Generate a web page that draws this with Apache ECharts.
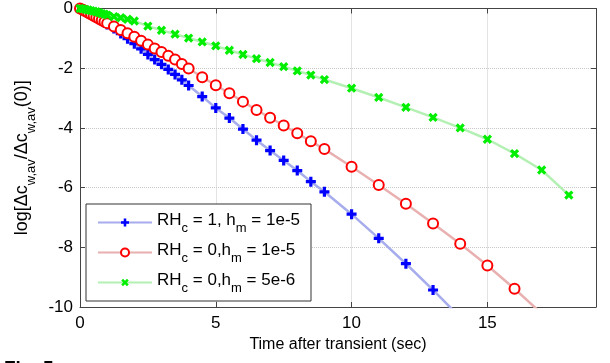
<!DOCTYPE html>
<html><head><meta charset="utf-8">
<script src="https://cdn.jsdelivr.net/npm/echarts@6/dist/echarts.min.js"></script>
<style>html,body{margin:0;padding:0;background:#fff}#c{width:610px;height:363px}</style>
</head><body><div id="c"></div>
<script>
// ---- data ----
var xTicks = [0, 5, 10, 15];
var yTicks = [0, -2, -4, -6, -8, -10];
var seriesNames = ['RH_c = 1, h_m = 1e-5', 'RH_c = 0,h_m = 1e-5', 'RH_c = 0,h_m = 5e-6'];

var tBlue = [0,0.1,0.2,0.3,0.4,0.5,0.6,0.7,0.8,0.9,1.0,
  1.25,1.5,1.75,2.0,2.25,2.5,2.75,3.0,3.25,3.5,3.75,4.0,
  4.5,5,5.5,6,6.5,7,7.5,8,8.5,9,
  10,11,12,13,14];
var yBlue = [0,-0.04,-0.09,-0.14,-0.19,-0.24,-0.30,-0.36,-0.42,-0.48,-0.54,
  -0.67,-0.84,-1.01,-1.18,-1.35,-1.54,-1.71,-1.87,-2.04,-2.21,-2.39,-2.58,
  -2.95,-3.33,-3.67,-4.04,-4.41,-4.76,-5.09,-5.43,-5.80,-6.14,
  -6.89,-7.70,-8.55,-9.43,-10.35];

var tRed = [0,0.1,0.2,0.3,0.4,0.5,0.6,0.7,0.8,0.9,1.0,
  1.25,1.5,1.75,2.0,2.25,2.5,2.75,3.0,3.25,3.5,3.75,4.0,
  4.5,5,5.5,6,6.5,7,7.5,8,8.5,9,
  10,11,12,13,14,15,16,17];
var yRed = [0,-0.04,-0.09,-0.14,-0.19,-0.24,-0.29,-0.34,-0.39,-0.44,-0.49,
  -0.60,-0.72,-0.83,-0.95,-1.08,-1.21,-1.34,-1.46,-1.58,-1.71,-1.86,-2.01,
  -2.30,-2.57,-2.84,-3.12,-3.40,-3.66,-3.92,-4.18,-4.45,-4.71,
  -5.30,-5.91,-6.54,-7.20,-7.88,-8.61,-9.39,-10.22];

var tGreen = [0,0.1,0.2,0.3,0.4,0.5,0.6,0.7,0.8,0.9,1.0,
  1.25,1.5,1.75,2.0,2.5,3,3.5,4,4.5,5,5.5,6,6.5,7,7.5,8,8.5,9,
  10,11,12,13,14,15,16,17,18];
var yGreen = [0,-0.01,-0.03,-0.05,-0.07,-0.09,-0.11,-0.14,-0.17,-0.19,-0.22,
  -0.27,-0.31,-0.36,-0.42,-0.59,-0.73,-0.86,-0.99,-1.12,-1.25,-1.40,-1.54,-1.68,-1.81,-1.95,-2.09,-2.23,-2.38,
  -2.67,-2.98,-3.31,-3.65,-4.00,-4.38,-4.86,-5.41,-6.25];

function pairs(t, y) { return t.map(function (v, i) { return [v, y[i]]; }); }

var FONT = 'Liberation Sans';
var PLUS = 'path://M3.4,0H6.6V3.4H10V6.6H6.6V10H3.4V6.6H0V3.4H3.4Z';

function makeRich(main, sub, drop) {
  return {
    m: { fontFamily: FONT, fontSize: main, color: '#000', lineHeight: main + 4, verticalAlign: 'top' },
    s: { fontFamily: FONT, fontSize: sub, color: '#000', lineHeight: sub, padding: [drop, 0, 0, 0], verticalAlign: 'top' }
  };
}
function subFmt(name) {
  return '{m|' + name.replace(/_(\w)/g, '}{s|$1}{m|') + '}';
}

var chart = echarts.init(document.getElementById('c'), null, { renderer: 'canvas' });
var axisLineStyle = { color: '#444', width: 1 };
chart.setOption({
  animation: false,
  backgroundColor: '#fff',
  grid: { left: 80, right: 14, top: 6, bottom: 56, containLabel: false },
  xAxis: [{
    type: 'value', min: 0, max: 19, interval: 5, position: 'bottom',
    axisLine: { show: true, onZero: false, lineStyle: axisLineStyle },
    axisTick: { show: true, inside: true, length: 5, lineStyle: axisLineStyle },
    axisLabel: { fontFamily: FONT, fontSize: 17, color: '#000', margin: 8,
      formatter: function (v) { return xTicks.indexOf(v) >= 0 ? String(v) : ''; } },
    splitLine: { show: true, lineStyle: { color: '#c8c8c8', type: 'dotted', width: 1 } },
    name: 'Time after transient (sec)', nameLocation: 'middle', nameGap: 28,
    nameTextStyle: { fontFamily: FONT, fontSize: 16, color: '#000' }
  }, {
    type: 'value', min: 0, max: 19, interval: 5, position: 'top',
    axisLine: { show: true, onZero: false, lineStyle: axisLineStyle },
    axisTick: { show: true, inside: true, length: 5, lineStyle: axisLineStyle },
    axisLabel: { show: false }, splitLine: { show: false }
  }],
  yAxis: [{
    type: 'value', min: -10, max: 0, interval: 2, position: 'left',
    axisLine: { show: true, onZero: false, lineStyle: axisLineStyle },
    axisTick: { show: true, inside: true, length: 5, lineStyle: axisLineStyle },
    axisLabel: { fontFamily: FONT, fontSize: 17, color: '#000', margin: 7,
      formatter: function (v) { return yTicks.indexOf(v) >= 0 ? String(v) : ''; } },
    splitLine: { show: true, lineStyle: { color: '#c8c8c8', type: 'dotted', width: 1 } },
    name: '{m|log[Δc}{s|w,av}{m|/Δc}{s|w,av}{m|(0)]}',
    nameLocation: 'middle', nameRotate: 90, nameGap: 37,
    nameTextStyle: { rich: makeRich(18, 13, 11) }
  }, {
    type: 'value', min: -10, max: 0, interval: 2, position: 'right',
    axisLine: { show: true, onZero: false, lineStyle: axisLineStyle },
    axisTick: { show: true, inside: true, length: 5, lineStyle: axisLineStyle },
    axisLabel: { show: false }, splitLine: { show: false }
  }],
  legend: {
    orient: 'vertical', left: 86, top: 204,
    padding: [8, 11, 6, 11], itemGap: 7, itemWidth: 54, itemHeight: 10,
    backgroundColor: '#fff', borderColor: '#333', borderWidth: 1, borderRadius: 0,
    data: seriesNames,
    formatter: subFmt,
    textStyle: { rich: makeRich(17, 13, 10) }
  },
  series: [{
    name: seriesNames[0], type: 'line', data: pairs(tBlue, yBlue),
    symbol: PLUS, symbolSize: 10, showAllSymbol: true,
    itemStyle: { color: '#0000ff' },
    lineStyle: { color: '#a6acec', width: 2.5 }
  }, {
    name: seriesNames[1], type: 'line', data: pairs(tRed, yRed),
    symbol: 'emptyCircle', symbolSize: 10, showAllSymbol: true,
    itemStyle: { color: '#ff0000', borderColor: '#ff0000', borderWidth: 2.6 },
    lineStyle: { color: '#e8b0b0', width: 2.5 }
  }, {
    name: seriesNames[2], type: 'line', data: pairs(tGreen, yGreen),
    symbol: PLUS, symbolSize: 10, symbolRotate: 45, showAllSymbol: true,
    itemStyle: { color: '#00ee00' },
    lineStyle: { color: '#b4f0b4', width: 2.5 }
  }],
  graphic: [{
    type: 'text', left: 4, top: 359,
    style: { text: 'Fig. 5:', font: 'bold 19px "Liberation Sans"', fill: '#000' }
  }]
});
</script></body></html>
